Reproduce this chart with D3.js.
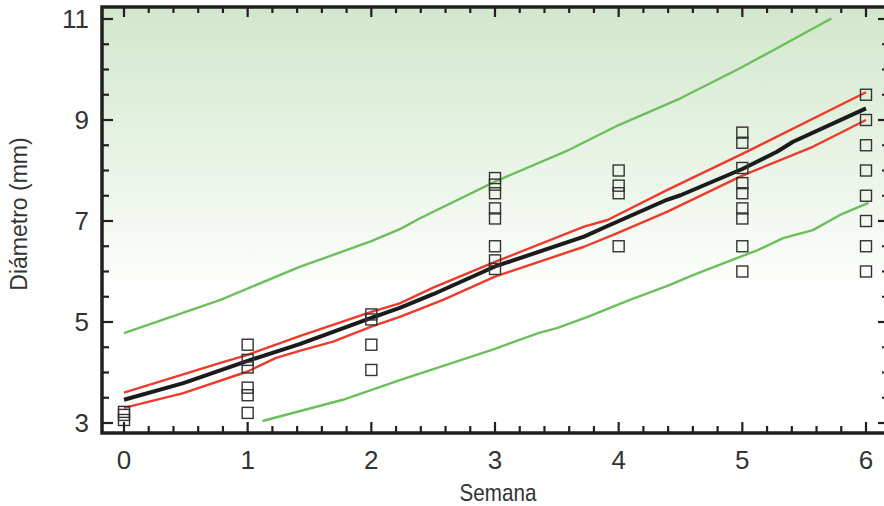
<!DOCTYPE html>
<html>
<head>
<meta charset="utf-8">
<script src="https://cdn.jsdelivr.net/npm/d3@7"></script>
<style>
  body { margin: 0; background: #fff; }
  svg { display: block; }
  .tick-label { font-family: "Liberation Sans", sans-serif; font-size: 26px; fill: #333; }
  .axis-title { font-family: "Liberation Sans", sans-serif; fill: #333; }
</style>
</head>
<body>
<div id="grafico"></div>
<script>
// Area de dibujo
const WIDTH = 884;
const HEIGHT = 506;

// Datos: observaciones por semana
const semanas = [0, 1, 2, 3, 4, 5, 6];
const observaciones = [
  [3.22, 3.16, 3.06],
  [4.55, 4.25, 4.1, 3.7, 3.55, 3.2],
  [5.15, 5.05, 4.55, 4.05],
  [7.85, 7.72, 7.55, 7.25, 7.05, 6.5, 6.22, 6.05],
  [8.0, 7.7, 7.55, 6.5],
  [8.75, 8.55, 8.05, 7.75, 7.55, 7.25, 7.05, 6.5, 6.0],
  [9.5, 9.0, 8.5, 8.0, 7.5, 7.0, 6.5, 6.0]
];

// Recta media (negra)
const mediaX = [0, 0.48, 1, 1.42, 2, 2.23, 2.5, 3, 3.72, 3.91, 4.39, 4.5, 5, 5.28, 5.41, 6];
const mediaY = [3.46, 3.79, 4.23, 4.56, 5.08, 5.28, 5.55, 6.1, 6.69, 6.9, 7.42, 7.51, 8.03, 8.37, 8.57, 9.23];

// Banda de confianza (rojo)
const confSupX = [0, 0.78, 1, 1.42, 2, 2.23, 2.5, 3, 3.72, 3.91, 4.39, 5, 6];
const confSupY = [3.6, 4.19, 4.35, 4.72, 5.2, 5.37, 5.68, 6.19, 6.89, 7.02, 7.61, 8.33, 9.55];
const confInfX = [0, 0.48, 1, 1.23, 1.42, 1.69, 2, 2.23, 2.58, 3, 3.72, 3.99, 4.39, 5, 5.57, 6];
const confInfY = [3.3, 3.59, 4.02, 4.29, 4.43, 4.61, 4.91, 5.1, 5.44, 5.9, 6.49, 6.76, 7.18, 7.9, 8.47, 9.0];

// Banda de prediccion (verde)
const predSupX = [0, 0.78, 1.42, 2, 2.24, 2.39, 3, 3.6, 4, 4.5, 5, 5.72];
const predSupY = [4.78, 5.44, 6.09, 6.6, 6.85, 7.05, 7.78, 8.41, 8.9, 9.43, 10.05, 11.01];
const predInfX = [1.12, 1.77, 2.23, 3, 3.35, 3.5, 3.75, 4.09, 4.41, 4.6, 5.13, 5.33, 5.57, 5.79, 6.02];
const predInfY = [3.04, 3.46, 3.85, 4.47, 4.78, 4.88, 5.1, 5.44, 5.73, 5.93, 6.43, 6.66, 6.82, 7.12, 7.36];

// Ticks
const xMayores = [0, 1, 2, 3, 4, 5, 6];
const xMenores = d3.range(0, 6.01, 0.2);
const yMayores = [3, 5, 7, 9, 11];
const yMenores = d3.range(3, 11.01, 0.5);

// Marco del grafico (pixeles)
const izq = 102, der = 886, arriba = 7, abajo = 433;

var x = d3.scaleLinear().domain([0, 6]).range([124, 866]);
var y = d3.scaleLinear().domain([3, 11]).range([423, 19]);

var svg = d3.select("#grafico")
  .append("svg")
  .attr("width", WIDTH)
  .attr("height", HEIGHT);

// Degradado verde del fondo
var grad = svg.append("defs").append("linearGradient")
  .attr("id", "fondo")
  .attr("gradientUnits", "userSpaceOnUse")
  .attr("x1", 0).attr("y1", arriba)
  .attr("x2", 0).attr("y2", 300);
grad.append("stop").attr("offset", 0).attr("stop-color", "#d1e7cb");
grad.append("stop").attr("offset", 1).attr("stop-color", "#ffffff");

svg.append("rect")
  .attr("x", izq).attr("y", arriba)
  .attr("width", der - izq).attr("height", abajo - arriba)
  .attr("fill", "url(#fondo)");

// Lineas
function dibujaLinea(xs, ys, color, grosor) {
  var puntos = xs.map((d, i) => [d, ys[i]]);
  svg.append("path")
    .datum(puntos)
    .attr("fill", "none")
    .attr("stroke", color)
    .attr("stroke-width", grosor)
    .attr("stroke-linejoin", "round")
    .attr("d", d3.line().x(d => x(d[0])).y(d => y(d[1])));
}
dibujaLinea(predSupX, predSupY, "#6cbf5c", 2.4);
dibujaLinea(predInfX, predInfY, "#6cbf5c", 2.4);
dibujaLinea(confSupX, confSupY, "#ec3b2c", 2.4);
dibujaLinea(confInfX, confInfY, "#ec3b2c", 2.4);
dibujaLinea(mediaX, mediaY, "#1b1b1b", 4);

// Observaciones (cuadrados)
var obs = [];
semanas.forEach(function (s, i) {
  observaciones[i].forEach(function (v) { obs.push({ s: s, v: v }); });
});
svg.selectAll("rect.obs")
  .data(obs)
  .enter()
  .append("rect")
  .attr("class", "obs")
  .attr("x", d => x(d.s) - 5.5)
  .attr("y", d => y(d.v) - 5.5)
  .attr("width", 11)
  .attr("height", 11)
  .attr("fill", "none")
  .attr("stroke", "#333")
  .attr("stroke-width", 1.4);

// Ticks de los cuatro lados
var colorEje = "#231f20";
function tick(x1, y1, x2, y2) {
  svg.append("line")
    .attr("x1", x1).attr("y1", y1).attr("x2", x2).attr("y2", y2)
    .attr("stroke", colorEje).attr("stroke-width", 2.2);
}
xMenores.forEach(function (v) {
  var mayor = xMayores.some(m => Math.abs(m - v) < 1e-6);
  tick(x(v), abajo, x(v), abajo - (mayor ? 11 : 7));
  tick(x(v), arriba, x(v), arriba + (mayor ? 10 : 6));
});
yMenores.forEach(function (v) {
  var mayor = yMayores.some(m => Math.abs(m - v) < 1e-6);
  tick(izq, y(v), izq + (mayor ? 11 : 7), y(v));
  tick(der, y(v), der - (mayor ? 8 : 4), y(v));
});

// Marco
svg.append("path")
  .attr("d", "M" + der + "," + arriba + "H" + izq + "V" + abajo + "H" + der)
  .attr("fill", "none")
  .attr("stroke", colorEje)
  .attr("stroke-width", 3.5);

// Etiquetas
svg.selectAll("text.ylab")
  .data(yMayores)
  .enter()
  .append("text")
  .attr("class", "tick-label")
  .attr("x", 89)
  .attr("y", d => y(d))
  .attr("dy", "0.36em")
  .attr("text-anchor", "end")
  .text(d => d);

svg.selectAll("text.xlab")
  .data(xMayores)
  .enter()
  .append("text")
  .attr("class", "tick-label")
  .attr("x", d => x(d))
  .attr("y", 469)
  .attr("text-anchor", "middle")
  .text(d => d);

// titulo eje x, algo estrecho como en el original
svg.append("text")
  .attr("class", "axis-title")
  .attr("transform", "translate(498,501) scale(0.86,1)")
  .attr("text-anchor", "middle")
  .style("font-size", "24px")
  .text("Semana");

svg.append("text")
  .attr("class", "axis-title")
  .attr("transform", "translate(27,214) rotate(-90)")
  .attr("text-anchor", "middle")
  .style("font-size", "23px")
  .text("Diámetro (mm)");
</script>
</body>
</html>
